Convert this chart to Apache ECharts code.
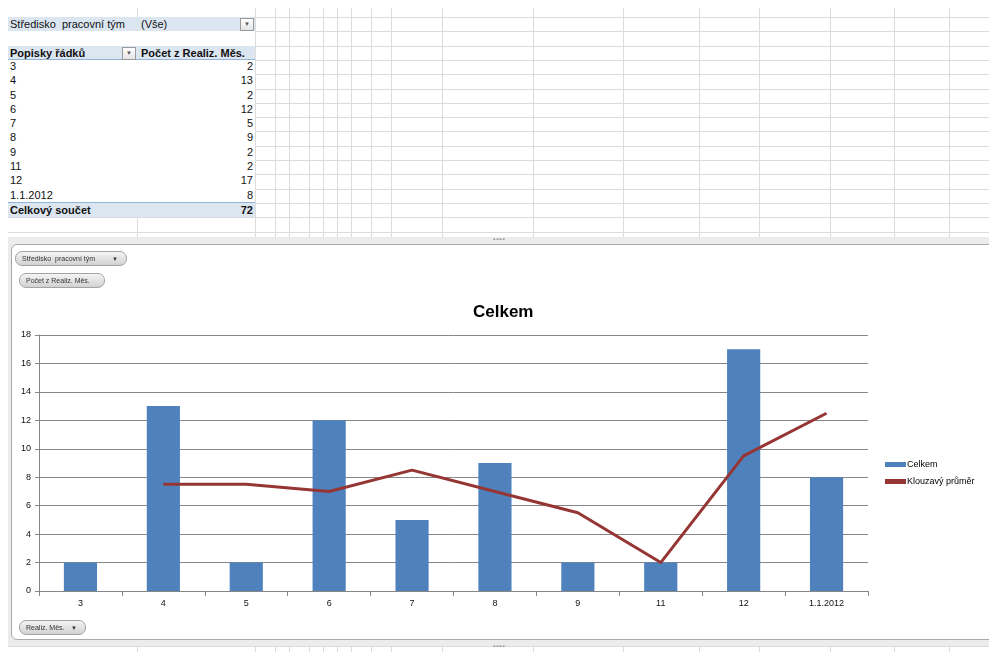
<!DOCTYPE html>
<html>
<head>
<meta charset="utf-8">
<title>Celkem</title>
<script src="https://cdn.jsdelivr.net/npm/echarts@6/dist/echarts.min.js"></script>
<style>
  html, body { margin: 0; padding: 0; width: 989px; height: 652px; overflow: hidden; background: #fff;
    font-family: "Liberation Sans", Arial, sans-serif; }
  .abs { position: absolute; }
  .vl { position: absolute; width: 1px; background: #dcdcdc; }
  .hl { position: absolute; height: 1px; background: #dcdcdc; }
  .cell { position: absolute; font-size: 11px; line-height: 14px; color: #111; white-space: pre; }
  .hdr { background: #dce6f1; }
  .drop { position: absolute; width: 12px; height: 11px; border: 1px solid #9a9a9a; background: linear-gradient(#ffffff, #e4e4e4);
    font-size: 6px; line-height: 11px; text-align: center; color: #555; box-sizing: content-box; }
  .pill { position: absolute; height: 15px; border: 1px solid #a3a3a3; border-radius: 7px;
    background: linear-gradient(#f4f4f4, #d2d2d2); font-size: 7px; line-height: 14px; color: #333;
    padding-left: 6px; box-sizing: border-box; white-space: pre; z-index: 3; }
  .pill span { position: absolute; right: 8px; font-size: 6px; }
  #frame { position: absolute; left: 8px; top: 237px; width: 1000px; height: 409px; background: #ececec; z-index: 1; }
  #plotbox { position: absolute; left: 11px; top: 244px; width: 1000px; height: 396px; background: #fff;
    border: 1px solid #a9a9a9; border-radius: 6px; box-sizing: border-box; z-index: 1; }
  .dots { position: absolute; font-size: 6px; color: #888; letter-spacing: 1px; z-index: 2; }
  #chart { position: absolute; left: 0; top: 0; width: 989px; height: 652px; z-index: 2; }
</style>
</head>
<body>
<div id="sheet"></div>
<div id="frame"></div>
<div id="plotbox"></div>
<div class="dots" style="left:493px;top:236px;">&#9642;&#9642;&#9642;&#9642;</div>
<div class="dots" style="left:493px;top:643px;">&#9642;&#9642;&#9642;&#9642;</div>
<div class="pill" style="left:15px;top:251px;width:112px;">Středisko  pracovní tým<span>&#9660;</span></div>
<div class="pill" style="left:19px;top:273px;width:86px;">Počet z Realiz. Měs.</div>
<div class="pill" style="left:19px;top:620px;width:67px;">Realiz. Měs.<span>&#9660;</span></div>
<div id="chart"></div>
<script>
// Pivot data: month label -> count of realised items
const categories = ['3', '4', '5', '6', '7', '8', '9', '11', '12', '1.1.2012'];
const counts = [2, 13, 2, 12, 5, 9, 2, 2, 17, 8];
// 2-period moving average trend line (first month has no value)
const movingAvg = [null, 7.5, 7.5, 7, 8.5, 7, 5.5, 2, 9.5, 12.5];
const grandTotal = 72;

const filterLabel = 'Středisko  pracovní tým';
const filterValue = '(Vše)';
const rowHeader = 'Popisky řádků';
const valueHeader = 'Počet z Realiz. Měs.';
const totalLabel = 'Celkový součet';
const chartTitle = 'Celkem';
const seriesBarName = 'Celkem';
const seriesLineName = 'Klouzavý průměr';

// ---- worksheet grid ----
const sheet = document.getElementById('sheet');
const colLines = [137, 255, 275, 289, 309, 323, 337, 351, 371, 391, 442, 533, 623, 699, 759, 830, 894, 949];
const rowTop = 17, rowH = 14.3;
function add(cls, style, text) {
  const d = document.createElement('div');
  d.className = cls;
  Object.assign(d.style, style);
  if (text !== undefined) d.textContent = text;
  sheet.appendChild(d);
  return d;
}
colLines.forEach(x => add('vl', { left: x + 'px', top: '8px', height: '644px' }));
for (let i = 0; i < 46; i++) {
  const y = Math.round(rowTop + i * rowH);
  add('hl', { left: '8px', top: y + 'px', width: '981px' });
}
function rowY(r) { return Math.round(rowTop + r * rowH); }

// pivot table area has no gridlines
add('abs', { left: '8px', top: rowY(0) + 'px', width: '247px', height: (rowY(14) - rowY(0)) + 'px', background: '#fff' });

// filter row
add('abs hdr', { left: '8px', top: rowY(0) + 'px', width: '247px', height: (rowY(1) - rowY(0)) + 'px' });
add('cell', { left: '10px', top: rowY(0) + 'px' }, filterLabel);
add('cell', { left: '141px', top: rowY(0) + 'px' }, filterValue);
add('drop', { left: '240px', top: (rowY(0) + 1) + 'px' }, '▼');

// header row
add('abs hdr', { left: '8px', top: rowY(2) + 'px', width: '247px', height: (rowY(3) - rowY(2) - 1) + 'px', borderBottom: '1px solid #95b3d7' });
add('cell', { left: '10px', top: rowY(2) + 'px', fontWeight: 'bold' }, rowHeader);
add('cell', { left: '141px', top: rowY(2) + 'px', fontWeight: 'bold' }, valueHeader);
add('drop', { left: '122px', top: (rowY(2) + 1) + 'px' }, '▼');

// data rows
categories.forEach((c, i) => {
  const y = rowY(3 + i) - 1;
  add('cell', { left: '10px', top: y + 'px' }, c);
  add('cell', { left: '137px', width: '116px', textAlign: 'right', top: y + 'px' }, String(counts[i]));
});

// total row
add('abs hdr', { left: '8px', top: (rowY(13) - 1) + 'px', width: '247px', height: (rowY(14) - rowY(13)) + 'px', borderTop: '1px solid #95b3d7' });
add('cell', { left: '10px', top: rowY(13) + 'px', fontWeight: 'bold' }, totalLabel);
add('cell', { left: '137px', width: '116px', textAlign: 'right', top: rowY(13) + 'px', fontWeight: 'bold' }, String(grandTotal));

// ---- chart ----
const chart = echarts.init(document.getElementById('chart'), null, { renderer: 'canvas' });
const axisGray = '#868686';
const font = '"Liberation Sans", Arial, sans-serif';
chart.setOption({
  animation: false,
  backgroundColor: 'transparent',
  textStyle: { fontFamily: font },
  title: {
    text: chartTitle,
    left: 468, top: 299,
    textStyle: { fontSize: 17, fontWeight: 'bold', color: '#000', fontFamily: font }
  },
  legend: {
    orient: 'vertical',
    left: 880, top: 455,
    itemWidth: 21, itemHeight: 5, itemGap: 8,
    textStyle: { fontSize: 9, color: '#000', padding: [0, 0, 0, -4] },
    data: [
      { name: seriesBarName, icon: 'rect' },
      { name: seriesLineName, icon: 'rect' }
    ]
  },
  grid: { left: 39, right: 121, top: 335, bottom: 61, containLabel: false },
  xAxis: {
    type: 'category',
    data: categories,
    axisLine: { lineStyle: { color: axisGray, width: 1 } },
    axisTick: { show: true, alignWithLabel: false, length: 5, lineStyle: { color: axisGray } },
    axisLabel: { fontSize: 9, color: '#111', margin: 8 },
    splitLine: { show: false }
  },
  yAxis: {
    type: 'value',
    min: 0, max: 18, interval: 2,
    axisLine: { show: true, lineStyle: { color: axisGray, width: 1 } },
    axisTick: { show: true, length: 4, lineStyle: { color: axisGray } },
    axisLabel: { fontSize: 9, color: '#111', margin: 8 },
    splitLine: { show: true, lineStyle: { color: axisGray, width: 1 } }
  },
  series: [
    {
      name: seriesBarName,
      type: 'bar',
      data: counts,
      barWidth: '40%',
      itemStyle: { color: '#4f81bd' },
      z: 2
    },
    {
      name: seriesLineName,
      type: 'line',
      data: movingAvg,
      showSymbol: false,
      symbol: 'none',
      connectNulls: false,
      lineStyle: { color: '#963634', width: 3 },
      itemStyle: { color: '#963634' },
      z: 3
    }
  ]
});
</script>
</body>
</html>
